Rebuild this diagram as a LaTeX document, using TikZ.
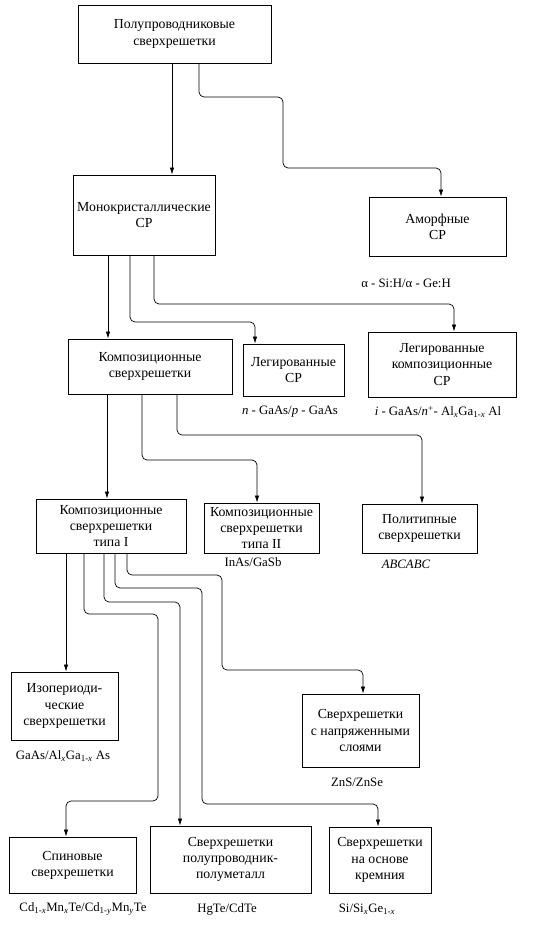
\documentclass[tikz,border=0pt]{standalone}
\usepackage{fontspec}
\setmainfont{Liberation Serif}
\usetikzlibrary{arrows.meta}

\begin{document}
\begin{tikzpicture}[x=1pt, y=-1pt,
    box/.style={rectangle, draw, line width=0.9pt, align=center, inner sep=1pt, font=\fontsize{13.8}{16.2}\selectfont},
    note/.style={inner sep=0pt, font=\fontsize{12.8}{14}\selectfont},
    arrow/.style={->, >={Latex[length=7pt,width=4.5pt]}, line width=0.7pt, rounded corners=5pt}
]
    \useasboundingbox (0,0) rectangle (538,925);

    % Верхний уровень
    \node[box, minimum width=193pt, minimum height=58pt] (semi) at (174.5,34) {Полупроводниковые\\сверхрешетки};
    \node[box, minimum width=142pt, minimum height=80pt] (mono) at (144,215) {Монокристаллические\\СР};
    \node[box, minimum width=137pt, minimum height=59pt] (amorph) at (437.5,226.5) {Аморфные\\СР};
    \node[note] (amorphex) at (406,283) {α - Si:H/α - Ge:H};

    % Второй уровень
    \node[box, minimum width=164pt, minimum height=55pt] (komp) at (150,366.5) {Композиционные\\сверхрешетки};
    \node[box, minimum width=101pt, minimum height=52pt] (legir) at (293.5,370) {Легированные\\СР};
    \node[box, minimum width=148pt, minimum height=65pt] (legirkomp) at (442,364.5) {Легированные\\композиционные\\СР};
    \node[note] (legirex) at (290,412) {\textit{n} - GaAs/\textit{p} - GaAs};
    \node[note] (legirkompex) at (438,412) {\textit{i} - GaAs/\textit{n}\textsuperscript{+}- Al\textsubscript{\textit{x}}Ga\textsubscript{1-\textit{x}} Al};

    % Третий уровень
    \node[box, minimum width=150pt, minimum height=54pt] (typeone) at (111,526) {Композиционные\\сверхрешетки\\типа I};
    \node[box, minimum width=115pt, minimum height=50pt] (typetwo) at (261.5,528) {Композиционные\\сверхрешетки\\типа II};
    \node[box, minimum width=115pt, minimum height=49pt] (poly) at (419.5,528.5) {Политипные\\сверхрешетки};
    \node[note] (typetwoex) at (253,562) {InAs/GaSb};
    \node[note] (polyex) at (406,564) {\textit{ABCABC}};

    % Нижние уровни
    \node[box, minimum width=107pt, minimum height=68pt] (izo) at (64.5,706) {Изопериоди-\\ческие\\сверхрешетки};
    \node[box, minimum width=117pt, minimum height=73pt] (strain) at (360.5,730.5) {Сверхрешетки\\с напряженными\\слоями};
    \node[note] (izoex) at (63,756) {GaAs/Al\textsubscript{\textit{x}}Ga\textsubscript{1-\textit{x}} As};
    \node[note] (strainex) at (357,782) {ZnS/ZnSe};
    \node[box, minimum width=127pt, minimum height=56pt] (spin) at (72.5,865) {Спиновые\\сверхрешетки};
    \node[box, minimum width=161pt, minimum height=67pt] (semimet) at (230.5,859.5) {Сверхрешетки\\полупроводник-\\полуметалл};
    \node[box, minimum width=102pt, minimum height=66pt] (silicon) at (380,860) {Сверхрешетки\\на основе\\кремния};
    \node[note] (spinex) at (83,909) {Cd\textsubscript{1-\textit{x}}Mn\textsubscript{\textit{x}}Te/Cd\textsubscript{1-\textit{y}}Mn\textsubscript{\textit{y}}Te};
    \node[note] (semimetex) at (227,909) {HgTe/CdTe};
    \node[note] (siliconex) at (367,909) {Si/Si\textsubscript{\textit{x}}Ge\textsubscript{1-\textit{x}}};

    % Стрелки
    \draw[arrow] (semi.south -| 172,0) -- (mono.north -| 172,0);
    \draw[arrow] (semi.south -| 199,0) |- (283,97) |- (441,168) -- (amorph.north -| 441,0);
    \draw[arrow] (mono.south -| 108,0) -- (komp.north -| 108,0);
    \draw[arrow] (mono.south -| 130,0) |- (255,322) -- (legir.north -| 255,0);
    \draw[arrow] (mono.south -| 154,0) |- (454,304) -- (legirkomp.north -| 454,0);
    \draw[arrow] (komp.south -| 107,0) -- (typeone.north -| 107,0);
    \draw[arrow] (komp.south -| 142,0) |- (257,460) -- (typetwo.north -| 257,0);
    \draw[arrow] (komp.south -| 177,0) |- (422,435) -- (poly.north -| 422,0);
    \draw[arrow] (typeone.south -| 66,0) -- (izo.north -| 66,0);
    \draw[arrow] (typeone.south -| 84,0) |- (158,614) |- (66,801) -- (spin.north -| 66,0);
    \draw[arrow] (typeone.south -| 104,0) |- (180,602) -- (semimet.north -| 180,0);
    \draw[arrow] (typeone.south -| 115,0) |- (202,588) |- (378,804) -- (silicon.north -| 378,0);
    \draw[arrow] (typeone.south -| 127,0) |- (222,575) |- (363,670) -- (strain.north -| 363,0);
\end{tikzpicture}
\end{document}
